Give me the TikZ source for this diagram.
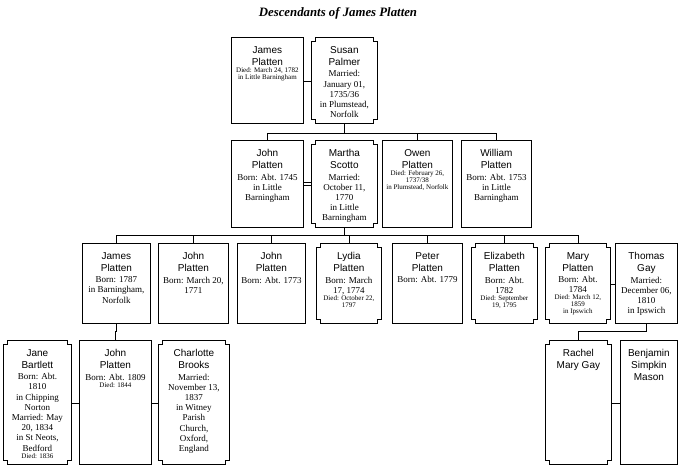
\documentclass[tikz,border=0pt]{standalone}
\usepackage{fontspec}
\setmainfont{Liberation Serif}
\newfontfamily\namefont{Liberation Sans}
\tikzstyle{man}=[draw,anchor=north west,inner sep=0pt,line width=0.8pt]
\tikzstyle{woman}=[anchor=north west,inner sep=0pt]
\tikzstyle{marr}=[double,double distance=2pt,line width=0.6pt]
\newcommand{\card}[3]{\parbox[t][#2pt][t]{#1pt}{\centering\vspace*{9pt}#3}}
\newcommand{\nm}[1]{{\namefont\fontsize{10}{12}\selectfont #1\par}}
\newcommand{\dt}[1]{{\fontsize{9}{10.2}\selectfont\vspace{1.3pt}#1\par}}
\newcommand{\dd}[1]{{\fontsize{7}{7}\selectfont #1\par}}

\begin{document}
\begin{tikzpicture}[x=1pt,y=-1pt,line width=0.8pt]
    \useasboundingbox (0,0) rectangle (678,466);
    \node (title) at (338,13) {\bfseries\itshape\fontsize{12.8}{15}\selectfont Descendants of James Platten};
    % generation 1
    \node[man]   (jamesP) at (231,37) {\card{72}{86}{\nm{James\\Platten}\dd{Died: March 24, 1782\\in Little Barningham}}};
    \node[woman] (susan)  at (311,37) {\card{66}{86}{\nm{Susan\\Palmer}\dt{Married:\\January 01,\\1735/36\\in Plumstead,\\Norfolk}}};
    % generation 2
    \node[man]   (john)    at (231,140) {\card{72}{87}{\nm{John\\Platten}\dt{Born: Abt. 1745\\in Little\\Barningham}}};
    \node[woman] (martha)  at (311,140) {\card{66}{87}{\nm{Martha\\Scotto}\dt{Married:\\October 11,\\1770\\in Little\\Barningham}}};
    \node[man]   (owen)    at (382,140) {\card{70}{87}{\nm{Owen\\Platten}\dd{Died: February 26,\\1737/38\\in Plumstead, Norfolk}}};
    \node[man]   (william) at (461,140) {\card{70}{87}{\nm{William\\Platten}\dt{Born: Abt. 1753\\in Little\\Barningham}}};
    % generation 3
    \node[man]   (james2)    at (82,243)  {\card{68}{80}{\nm{James\\Platten}\dt{Born: 1787\\in Barningham,\\Norfolk}}};
    \node[man]   (john2)     at (158,243) {\card{70}{80}{\nm{John\\Platten}\dt{Born: March 20,\\1771}}};
    \node[man]   (john3)     at (237,243) {\card{68}{80}{\nm{John\\Platten}\dt{Born: Abt. 1773}}};
    \node[woman] (lydia)     at (316,243) {\card{65}{80}{\nm{Lydia\\Platten}\dt{Born: March\\17, 1774}\dd{Died: October 22,\\1797}}};
    \node[man]   (peter)     at (392,243) {\card{70}{80}{\nm{Peter\\Platten}\dt{Born: Abt. 1779}}};
    \node[woman] (elizabeth) at (471,243) {\card{66}{80}{\nm{Elizabeth\\Platten}\dt{Born: Abt.\\1782}\dd{Died: September\\19, 1795}}};
    \node[woman] (mary)      at (545,243) {\card{65}{80}{\nm{Mary\\Platten}\dt{Born: Abt.\\1784}\dd{Died: March 12,\\1859\\in Ipswich}}};
    \node[man]   (thomas)    at (615,243) {\card{62}{80}{\nm{Thomas\\Gay}\dt{Married:\\December 06,\\1810\\in Ipswich}}};
    % generation 4
    \node[woman] (jane)      at (3,340)   {\card{68}{124}{\nm{Jane\\Bartlett}\dt{Born: Abt.\\1810\\in Chipping\\Norton\\Married: May\\20, 1834\\in St Neots,\\Bedford}\dd{Died: 1836}}};
    \node[man]   (john4)     at (79,340)  {\card{72}{124}{\nm{John\\Platten}\dt{Born: Abt. 1809}\dd{Died: 1844}}};
    \node[woman] (charlotte) at (158,340) {\card{71}{124}{\nm{Charlotte\\Brooks}\dt{Married:\\November 13,\\1837\\in Witney\\Parish\\Church,\\Oxford,\\England}}};
    \node[woman] (rachel)    at (545,340) {\card{66}{124}{\nm{Rachel\\Mary Gay}}};
    \node[man]   (benjamin)  at (620,340) {\card{57}{124}{\nm{Benjamin\\Simpkin\\Mason}}};

    % notched frames
    \foreach \n in {susan,martha,lydia,elizabeth,mary,jane,charlotte,rachel}
    \draw ([xshift=4pt]\n.north west) -- ([xshift=-4pt]\n.north east) -- ++(0,4) -- ++(4,0)
        -- ([yshift=4pt]\n.south east) -- ++(-4,0) -- ++(0,4)
        -- ([xshift=4pt]\n.south west) -- ++(0,-4) -- ++(-4,0)
        -- ([yshift=-4pt]\n.north west) -- ++(4,0) -- cycle;

    % marriages
    \foreach \from/\to in {jamesP/susan,john/martha,mary/thomas,jane/john4,john4/charlotte,rachel/benjamin}
    \draw[marr] (\from) -- (\to);

    % children
    \foreach \kid in {john,owen,william}
    \draw (susan.south) -- ++(0,10) -| (\kid.north);
    \foreach \kid in {james2,john2,john3,lydia,peter,elizabeth,mary}
    \draw (martha.south) -- ++(0,8) -| (\kid.north);
    \draw (james2.south) -- ++(0,8) -| (john4.north);
    \draw (thomas.south) -- ++(0,8) -| (rachel.north);
\end{tikzpicture}
\end{document}
